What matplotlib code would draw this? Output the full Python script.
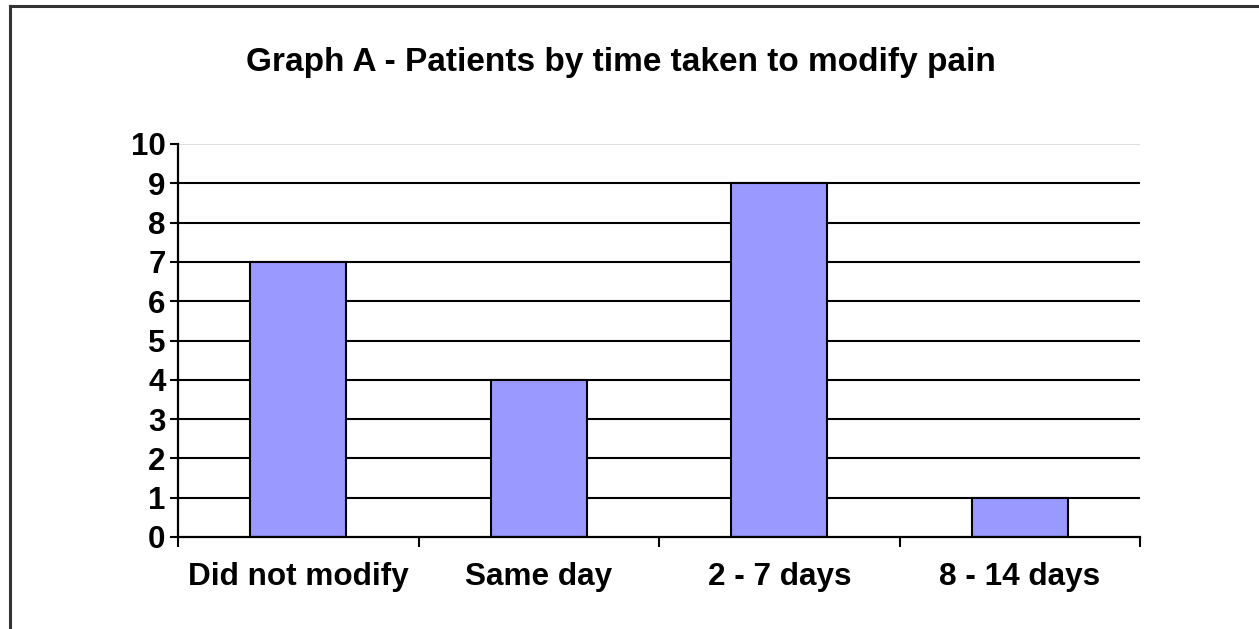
import matplotlib
matplotlib.use("Agg")
import matplotlib.pyplot as plt
from matplotlib.lines import Line2D

categories = ["Did not modify", "Same day", "2 - 7 days", "8 - 14 days"]
patients = [7, 4, 9, 1]
y_ticks = list(range(0, 11))
title = "Graph A - Patients by time taken to modify pain"

W, H = 1259, 629
fig = plt.figure(figsize=(W / 100, H / 100), dpi=100)
fig.patch.set_facecolor("white")

# figure frame (left and top edges visible)
fig.add_artist(Line2D([10 / W, 10 / W], [0, 1 - 6 / H], color="#333333", lw=2.2, transform=fig.transFigure))
fig.add_artist(Line2D([10 / W, 1.0], [1 - 6 / H, 1 - 6 / H], color="#333333", lw=2.2, transform=fig.transFigure))

left, right, bottom, top = 178 / W, 1140 / W, 1 - 537 / H, 1 - 144 / H
ax = fig.add_axes([left, bottom, right - left, top - bottom])

x = list(range(len(categories)))
ax.bar(x, patients, width=0.40, color="#9999FF", edgecolor="black", linewidth=1.5, zorder=3)

ax.set_xlim(-0.5, len(categories) - 0.5)
ax.set_ylim(0, 10)

for v in y_ticks[1:-1]:
    ax.axhline(v, color="black", lw=1.5, zorder=1)
ax.axhline(10, color="#d8d8d8", lw=1.2, zorder=1)

for s in ["top", "right"]:
    ax.spines[s].set_visible(False)
for s in ["left", "bottom"]:
    ax.spines[s].set_linewidth(1.6)
    ax.spines[s].set_color("black")
    ax.spines[s].set_zorder(4)

font = "Liberation Sans"
ax.set_yticks(y_ticks)
ax.set_yticklabels([str(v) for v in y_ticks], fontsize=22.5, fontweight="bold", family=font)
ax.tick_params(axis="y", direction="out", length=6, width=1.5, pad=3)

ax.set_xticks([i - 0.5 for i in range(len(categories) + 1)], minor=False)
ax.set_xticklabels([""] * (len(categories) + 1))
ax.tick_params(axis="x", which="major", direction="out", length=7, width=1.5)
ax.set_xticks(x, minor=True)
ax.set_xticklabels(categories, minor=True, fontsize=22.7, fontweight="bold", family=font)
ax.tick_params(axis="x", which="minor", length=0, pad=18)

fig.text(621 / W, 1 - 62 / H, title, ha="center", va="center", fontsize=24,
         fontweight="bold", family=font)

fig.savefig("out.png", dpi=100, facecolor="white")
